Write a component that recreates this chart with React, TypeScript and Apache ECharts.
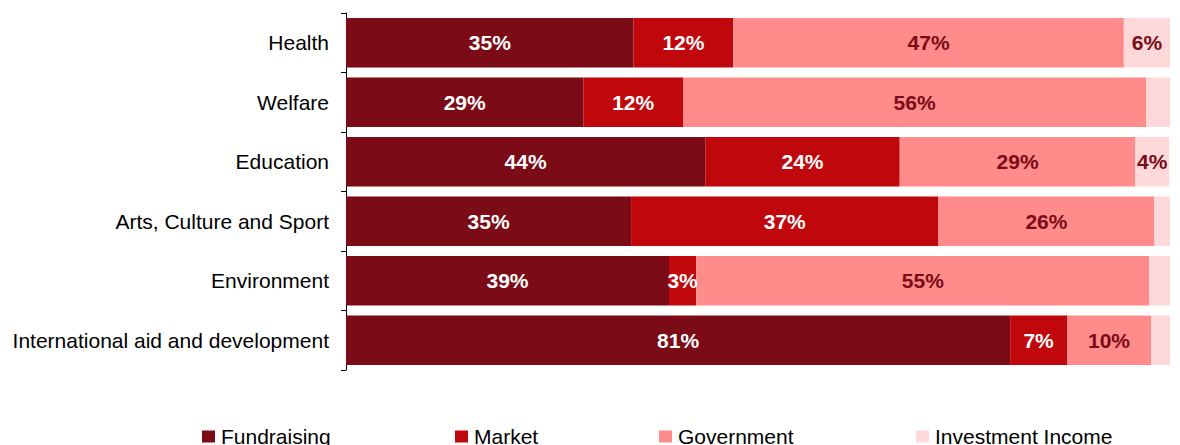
import React, { useEffect, useRef } from "react";
import * as echarts from "echarts";

const categories = [
  "Health",
  "Welfare",
  "Education",
  "Arts, Culture and Sport",
  "Environment",
  "International aid and development",
];
const seriesNames = ["Fundraising", "Market", "Government", "Investment Income"];
const fundraising = [34.9, 28.8, 43.6, 34.6, 39.2, 80.6];
const market = [12.1, 12.1, 23.6, 37.3, 3.3, 6.9];
const government = [47.4, 56.2, 28.6, 26.2, 55.0, 10.2];
const investment = [5.6, 2.9, 4.1, 1.9, 2.5, 2.3];
const colors = ["#7A0B17", "#C0070C", "#FF8B8A", "#FFD9D9"];
const labelColors = ["#FFFFFF", "#FFFFFF", "#7A0B17", "#7A0B17"];
const legendLeft = [202, 455, 659, 916];

export default function App() {
  const ref = useRef<HTMLDivElement>(null);
  useEffect(() => {
    if (!ref.current) return;
    const chart = echarts.init(ref.current, null, { renderer: "svg" });
    const font = "'Liberation Sans', Arial, sans-serif";
    const values = [fundraising, market, government, investment];
    chart.setOption({
      animation: false,
      textStyle: { fontFamily: font },
      grid: { left: 346, right: 10, top: 13, height: 357, containLabel: false },
      xAxis: { type: "value", min: 0, max: 100, show: false },
      yAxis: {
        type: "category",
        data: categories,
        inverse: true,
        axisLine: { show: true, lineStyle: { color: "#000", width: 1 } },
        axisTick: { show: true, length: 5, lineStyle: { color: "#000" } },
        axisLabel: { color: "#000", fontSize: 21, fontFamily: font, margin: 17 },
      },
      legend: seriesNames.map((n, i) => ({
        data: [n],
        left: legendLeft[i],
        top: 426,
        padding: 0,
        itemWidth: 13,
        itemHeight: 12,
        icon: "rect",
        textStyle: { fontSize: 21, color: "#000", fontFamily: font, padding: [0, 0, 0, 1] },
      })),
      series: seriesNames.map((n, i) => ({
        name: n,
        type: "bar",
        stack: "total",
        barCategoryGap: "17%",
        itemStyle: { color: colors[i] },
        label: {
          show: true,
          position: "inside",
          color: labelColors[i],
          fontSize: 21,
          fontWeight: "bold",
          fontFamily: font,
          formatter: (p: any) => (p.value >= 3 ? Math.round(p.value) + "%" : ""),
        },
        data: values[i],
      })),
    });
    return () => chart.dispose();
  }, []);
  return <div ref={ref} style={{ width: 1180, height: 445, position: "absolute", left: 0, top: 0 }} />;
}
